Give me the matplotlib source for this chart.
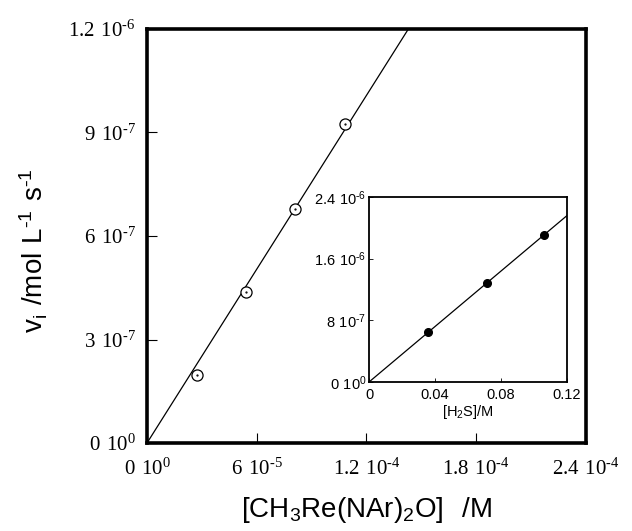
import numpy as np

import matplotlib
matplotlib.use("Agg")
import matplotlib.pyplot as plt # noqa

plt.rcParams['mathtext.fontset'] = 'custom'
plt.rcParams['mathtext.rm'] = 'Liberation Serif'

# main plot: initial rate vs catalyst concentration
conc_re = np.array([2.75e-5, 5.4e-5, 8.1e-5, 1.08e-4])
rate_re = np.array([1.97e-7, 4.38e-7, 6.78e-7, 9.25e-7])
main_xticks = [0, 6e-5, 1.2e-4, 1.8e-4, 2.4e-4]
main_xlabels = ['0 10^{0}', '6 10^{-5}', '1.2 10^{-4}', '1.8 10^{-4}', '2.4 10^{-4}']
main_yticks = [0, 3e-7, 6e-7, 9e-7, 1.2e-6]
main_ylabels = ['0 10^{0}', '3 10^{-7}', '6 10^{-7}', '9 10^{-7}', '1.2 10^{-6}']

# inset: initial rate vs [H2S]
conc_h2s = np.array([0.0358, 0.0715, 0.106])
rate_h2s = np.array([6.5e-7, 1.28e-6, 1.91e-6])
ins_xticks = [0, 0.04, 0.08, 0.12]
ins_xlabels = ['0', '0.04', '0.08', '0.12']
ins_yticks = [0, 8e-7, 1.6e-6, 2.4e-6]
ins_ylabels = ['0 10^{0}', '8 10^{-7}', '1.6 10^{-6}', '2.4 10^{-6}']


def mreg(s):
    # plain font mathtext, keep hyphens short like the original
    s = s.replace(' ', r'\ ').replace('-', r'\text{-}')
    return r'$\mathregular{' + s + '}$'


def origin_slope(x, y):
    # least squares line forced through zero
    return np.sum(x*y)/np.sum(x*x)


fig = plt.figure(figsize=(6.32, 5.31), dpi=100)
ax = fig.add_axes([0.2326, 0.1657, 0.6946, 0.7797])

k = origin_slope(conc_re, rate_re)
xx = np.array([0, main_xticks[-1]])
ax.plot(xx, k*xx, color='k', lw=0.9, zorder=2)
ax.plot(conc_re, rate_re, 'o', ms=8, mfc='white', mec='k', mew=0.9, zorder=3)
ax.plot(conc_re, rate_re, '.', ms=1.2, color='k', zorder=4)
ax.set_xlim(0, 2.4e-4)
ax.set_ylim(0, 1.2e-6)
ax.set_xticks(main_xticks)
ax.set_xticklabels([mreg(s) for s in main_xlabels], family='Liberation Serif',
                   fontsize=15)
ax.set_yticks(main_yticks)
ax.set_yticklabels([mreg(s) for s in main_ylabels], family='Liberation Serif',
                   fontsize=15)
ax.tick_params(direction='in', length=7, width=0.8)
ax.tick_params(axis='x', pad=11)
ax.tick_params(axis='y', pad=8)
for sp in ax.spines.values():
    sp.set_linewidth(2.6)
ax.set_xlabel(mreg('[CH_3Re(NAr)_2O]  /M'), family='Liberation Sans',
              fontsize=20, labelpad=11)
ax.set_ylabel(mreg('v_i /mol L^{-1} s^{-1}'), family='Liberation Sans',
              fontsize=20)
ax.yaxis.set_label_coords(-0.222, 0.464)

ins = fig.add_axes([0.5839, 0.2806, 0.3133, 0.3484])
k2 = origin_slope(conc_h2s, rate_h2s)
xx2 = np.array([0, ins_xticks[-1]])
ins.plot(xx2, k2*xx2, color='k', lw=0.9)
ins.plot(conc_h2s, rate_h2s, 'o', ms=5.5, color='k')
ins.set_xlim(0, 0.12)
ins.set_ylim(0, 2.4e-6)
ins.set_xticks(ins_xticks)
ins.set_xticklabels(ins_xlabels, family='Liberation Sans', fontsize=10.5)
ins.set_yticks(ins_yticks)
ins.set_yticklabels([mreg(s) for s in ins_ylabels], family='Liberation Sans',
                    fontsize=10.5)
ins.tick_params(direction='in', length=3, width=0.6)
ins.tick_params(axis='x', pad=4)
ins.tick_params(axis='y', pad=2)
for sp in ins.spines.values():
    sp.set_linewidth(1.3)
ins.set_xlabel(mreg('[H_2S]/M'), family='Liberation Sans', fontsize=10.5,
               labelpad=1)

plt.savefig('out.png', dpi=100)
